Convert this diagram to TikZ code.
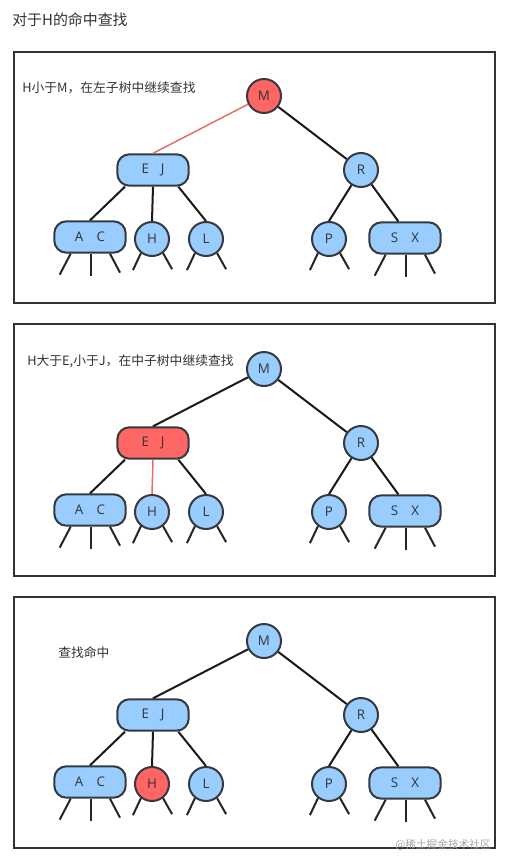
\documentclass[tikz,border=0pt]{standalone}
\usepackage{fontspec}
\setmainfont{Open Sans}
\newfontfamily\cjk{Noto Sans CJK SC}
\usetikzlibrary{calc}
\definecolor{nodeblue}{HTML}{99CCFF}
\definecolor{nodered}{HTML}{FF6666}
\definecolor{edgered}{HTML}{EA6B66}
\definecolor{outline}{HTML}{36393D}
\definecolor{txt}{HTML}{333333}
\tikzset{
  circnode/.style={circle, draw=outline, line width=1.5pt, fill=nodeblue,
    minimum size=25.5pt, inner sep=0pt, text=txt, font=\fontsize{10}{12}\selectfont},
  pillnode/.style={rectangle, rounded corners=9pt, draw=outline, line width=1.5pt,
    fill=nodeblue, minimum width=53.5pt, minimum height=23.5pt, inner sep=0pt,
    text=txt, font=\fontsize{10}{12}\selectfont},
  hit/.style={fill=nodered},
  plain/.style={},
  edgeline/.style={line width=1.5pt, draw=black!90},
  hitedge/.style={line width=1.1pt, draw=edgered},
  stubline/.style={line width=1.5pt, draw=black!85},
  panelbox/.style={draw=black!80, line width=1.5pt},
  cjklabel/.style={anchor=west, inner sep=0pt, text=txt, font=\cjk\fontsize{9.6}{12}\selectfont},
}
% #1 prefix, #2 y offset, #3 M style, #4 EJ style, #5 H style, #6 M-EJ edge, #7 EJ-H edge
\newcommand\drawbtree[7]{%
  \node[circnode,#3] (#1M) at (264,{96+#2}) {M};
  \node[pillnode,#4] (#1EJ) at (153,{170+#2}) {E\hspace{9pt}J};
  \node[circnode] (#1R) at (361,{170+#2}) {R};
  \node[pillnode] (#1AC) at (90,{237+#2}) {A\hspace{10pt}C};
  \node[circnode,#5] (#1H) at (152,{239+#2}) {H};
  \node[circnode] (#1L) at (206,{239+#2}) {L};
  \node[circnode] (#1P) at (329,{239+#2}) {P};
  \node[pillnode] (#1SX) at (405,{238+#2}) {S\hspace{10pt}X};
  \draw[#6] (#1M) -- (#1EJ.north);
  \draw[edgeline] (#1M) -- (#1R);
  \draw[edgeline] ([xshift=-21pt]#1EJ.south) -- (#1AC.north);
  \draw[#7] (#1EJ.south) -- (#1H.north);
  \draw[edgeline] ([xshift=19pt]#1EJ.south) -- (#1L.north);
  \draw[edgeline] (#1R) -- (#1P.north);
  \draw[edgeline] (#1R) -- ([xshift=-5pt]#1SX.north);
  \foreach \c in {H,L,P}{
    \draw[stubline] (#1\c.232) -- ++(-8,17);
    \draw[stubline] (#1\c.308) -- ++(9,16);
  }
  \foreach \c in {AC,SX}{
    \draw[stubline] ([xshift=-14.5pt]#1\c.south) -- ++(-11,21);
    \draw[stubline] ([xshift=0.75pt]#1\c.south) -- ++(0,22);
    \draw[stubline] ([xshift=15pt]#1\c.south) -- ++(10,19);
  }
}
\begin{document}
\begin{tikzpicture}[x=0.75pt,y=-0.75pt]
  \useasboundingbox (0,0) rectangle (507,867);
  \fill[white] (0,0) rectangle (507,867);
  \node[anchor=west, inner sep=0pt, text=txt, font=\cjk\fontsize{11.2}{14}\selectfont] (title) at (12,20) {对于H的命中查找};
  \draw[panelbox] (14,52) rectangle (495,303);
  \draw[panelbox] (14,324) rectangle (495,576);
  \draw[panelbox] (14,597) rectangle (495,848);
  \node[cjklabel] (lab1) at (22,88) {H小于M，在左子树中继续查找};
  \node[cjklabel] (lab2) at (27,361) {H大于E,小于J，在中子树中继续查找};
  \node[cjklabel] (lab3) at (58,653) {查找命中};
  \drawbtree{a}{0}{hit}{plain}{plain}{hitedge}{edgeline}
  \drawbtree{b}{273}{plain}{hit}{plain}{edgeline}{hitedge}
  \drawbtree{c}{545}{plain}{plain}{hit}{edgeline}{edgeline}
  \node[anchor=east, inner sep=0pt, text=black!35, font=\cjk\fontsize{8}{10}\selectfont] (wm) at (491,845) {@稀土掘金技术社区};
\end{tikzpicture}
\end{document}
